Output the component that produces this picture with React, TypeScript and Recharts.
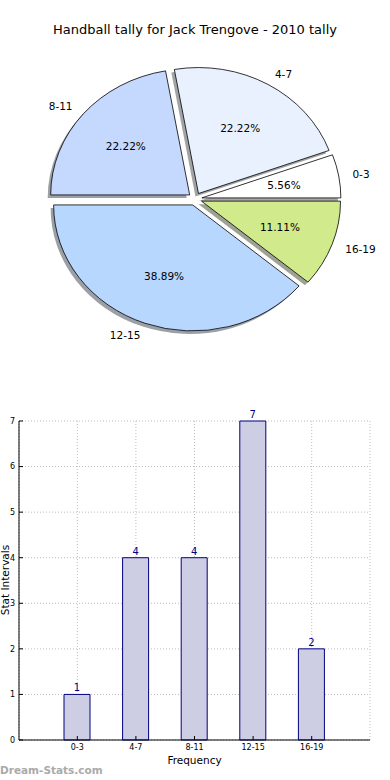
import React from "react";
import {
  PieChart,
  Pie,
  Cell,
  BarChart,
  Bar,
  XAxis,
  YAxis,
  CartesianGrid,
  LabelList,
} from "recharts";

// interval buckets and how many times each came up
const intervals = ["0-3", "4-7", "8-11", "12-15", "16-19"];
const counts = [1, 4, 4, 7, 2];
const sliceColors = ["#ffffff", "#eaf1fe", "#c5d8fe", "#b7d7ff", "#d0ea8c"];
const yTicks = [0, 1, 2, 3, 4, 5, 6, 7];

const FONT = "'DejaVu Sans', sans-serif";

// the pie is drawn as an ellipse, wider than tall
const RATIO = 139 / 126;
const EXPLODE = 0.05;
const RAD = Math.PI / 180;

const pieData = intervals.map((name, i) => ({ name, value: counts[i] }));
const barData = intervals.map((label, i) => ({ label, value: counts[i] }));

const slicePath = (ox: number, oy: number, rx: number, ry: number, a0: number, a1: number) => {
  const x0 = ox + rx * Math.cos(a0 * RAD);
  const y0 = oy - ry * Math.sin(a0 * RAD);
  const x1 = ox + rx * Math.cos(a1 * RAD);
  const y1 = oy - ry * Math.sin(a1 * RAD);
  const large = a1 - a0 > 180 ? 1 : 0;
  return `M${ox},${oy} L${x0},${y0} A${rx},${ry} 0 ${large} 0 ${x1},${y1} Z`;
};

const darken = (hex: string) => {
  if (!hex || hex[0] !== "#") return "rgb(60,60,60)";
  const n = parseInt(hex.slice(1), 16);
  const r = Math.round(((n >> 16) & 255) * 0.3);
  const g = Math.round(((n >> 8) & 255) * 0.3);
  const b = Math.round((n & 255) * 0.3);
  return `rgb(${r},${g},${b})`;
};

const EllipseSlice = (props: any) => {
  const { cx, cy, startAngle, endAngle, outerRadius, fill } = props;
  const ry = outerRadius;
  const rx = outerRadius * RATIO;
  const mid = (startAngle + endAngle) / 2;
  const ox = cx + EXPLODE * rx * Math.cos(mid * RAD);
  const oy = cy - EXPLODE * ry * Math.sin(mid * RAD);
  const d = slicePath(ox, oy, rx, ry, startAngle, endAngle);
  return (
    <g>
      <path d={d} fill={darken(fill)} fillOpacity={0.5} transform="translate(-3,3)" />
      <path d={d} fill={fill} stroke="#000" strokeWidth={0.8} />
    </g>
  );
};

const renderPieLabel = (props: any) => {
  const { cx, cy, midAngle = 0, outerRadius, percent = 0, name } = props;
  const ry = outerRadius;
  const rx = outerRadius * RATIO;
  const c = Math.cos(midAngle * RAD);
  const s = Math.sin(midAngle * RAD);
  const ox = cx + EXPLODE * rx * c;
  const oy = cy - EXPLODE * ry * s;
  return (
    <g>
      <text
        x={ox + 1.1 * rx * c}
        y={oy - 1.1 * ry * s}
        textAnchor={c > 0 ? "start" : "end"}
        dominantBaseline="central"
        fontFamily={FONT}
        fontSize={10.5}
        fill="#000"
      >
        {name}
      </text>
      <text
        x={ox + 0.6 * rx * c}
        y={oy - 0.6 * ry * s}
        textAnchor="middle"
        dominantBaseline="central"
        fontFamily={FONT}
        fontSize={10.5}
        fill="#000"
      >
        {`${(percent * 100).toFixed(2)}%`}
      </text>
    </g>
  );
};

const XLabel = (props: any) => {
  const vb = props.viewBox || { x: 19, y: 340, width: 351, height: 40 };
  return (
    <text x={vb.x + vb.width / 2} y={vb.y + 24} textAnchor="middle" fontFamily={FONT} fontSize={10.5} fill="#000">
      Frequency
    </text>
  );
};

const YLabel = () => (
  <text x={9} y={180} textAnchor="middle" transform="rotate(-90, 9, 180)" fontFamily={FONT} fontSize={10.5} fill="#000">
    Stat Intervals
  </text>
);

const App = () => {
  return (
    <div style={{ position: "absolute", left: 0, top: 0, width: 390, height: 780, background: "#fff", fontFamily: FONT }}>
      <div style={{ position: "absolute", top: 22, left: 0, width: 390, textAlign: "center", fontSize: 13, lineHeight: "16px" }}>
        Handball tally for Jack Trengove - 2010 tally
      </div>
      <div style={{ position: "absolute", top: 0, left: 0 }}>
        <PieChart width={390} height={400} margin={{ top: 0, right: 0, bottom: 0, left: 0 }}>
          <Pie
            data={pieData}
            dataKey="value"
            nameKey="name"
            cx={195}
            cy={199}
            outerRadius={126}
            startAngle={0}
            endAngle={360}
            stroke="none"
            labelLine={false}
            label={renderPieLabel}
            shape={EllipseSlice}
            inactiveShape={EllipseSlice}
            activeShape={EllipseSlice}
            isAnimationActive={false}
          >
            {pieData.map((entry, index) => (
              <Cell key={`slice-${index}`} fill={sliceColors[index % sliceColors.length]} />
            ))}
          </Pie>
        </PieChart>
      </div>
      <div style={{ position: "absolute", top: 400, left: 0 }}>
        <BarChart width={390} height={380} data={barData} margin={{ top: 21, right: 20, bottom: 0, left: 0 }}>
          <CartesianGrid stroke="#bdbdbd" strokeDasharray="1 2" />
          <XAxis
            dataKey="label"
            padding={{ left: 29, right: 29 }}
            height={40}
            interval={0}
            tick={{ fontSize: 8, fill: "#000", fontFamily: FONT }}
            tickSize={-4}
            tickMargin={8}
            axisLine={{ stroke: "#000" }}
            tickLine={{ stroke: "#000" }}
            label={<XLabel />}
          />
          <XAxis
            xAxisId="top"
            dataKey="label"
            orientation="top"
            padding={{ left: 29, right: 29 }}
            height={0}
            interval={0}
            tick={false}
            tickSize={-4}
            axisLine={{ stroke: "#000" }}
            tickLine={{ stroke: "#000" }}
          />
          <YAxis
            width={19}
            type="number"
            domain={[0, 7]}
            ticks={yTicks}
            interval={0}
            tick={{ fontSize: 8, fill: "#000", fontFamily: FONT }}
            tickSize={-4}
            tickMargin={8}
            axisLine={{ stroke: "#000" }}
            tickLine={{ stroke: "#000" }}
            label={<YLabel />}
          />
          <YAxis
            yAxisId="right"
            orientation="right"
            width={0}
            type="number"
            domain={[0, 7]}
            ticks={yTicks}
            interval={0}
            tick={false}
            tickSize={-4}
            axisLine={{ stroke: "#000" }}
            tickLine={{ stroke: "#000" }}
          />
          <Bar dataKey="value" fill="#cdcde3" stroke="#000080" strokeWidth={1} barSize={26} isAnimationActive={false}>
            <LabelList dataKey="value" position="top" offset={3} fill="#000080" fontSize={10} fontFamily={FONT} />
          </Bar>
        </BarChart>
      </div>
      <div style={{ position: "absolute", top: 763, left: 0, fontSize: 10.5, fontWeight: "bold", color: "#aaaaaa", lineHeight: "14px" }}>
        Dream-Stats.com
      </div>
    </div>
  );
};

export default App;
